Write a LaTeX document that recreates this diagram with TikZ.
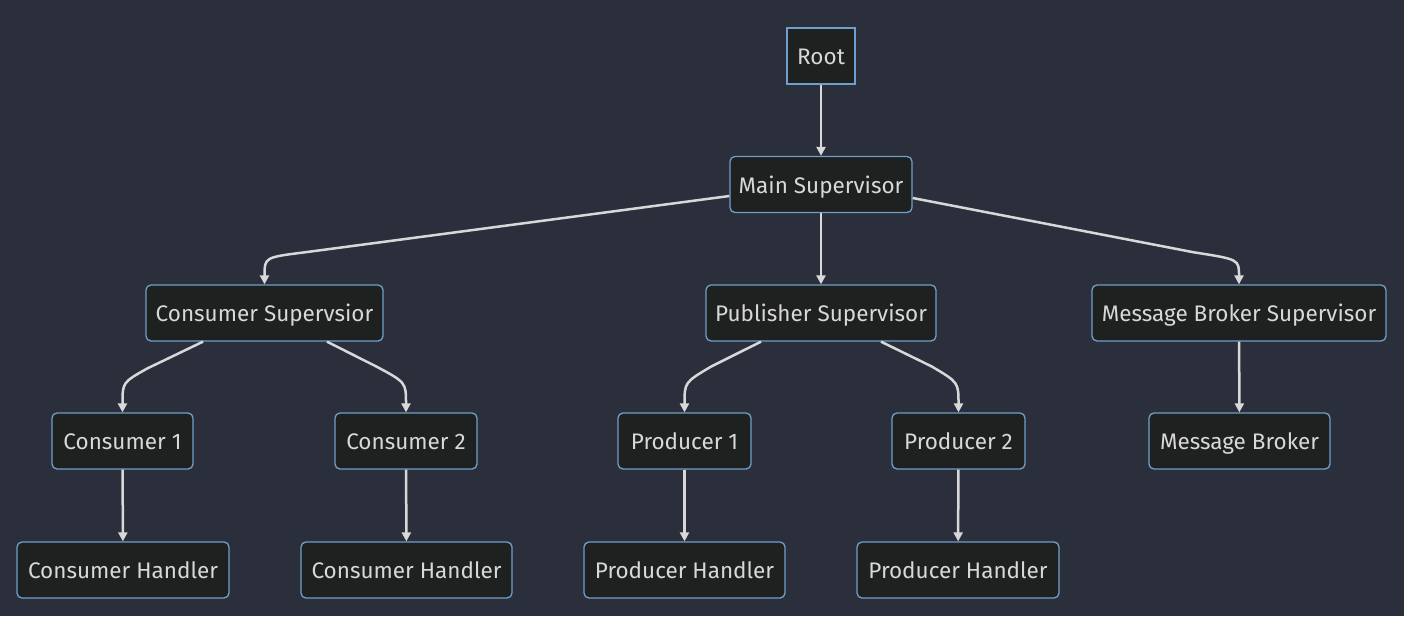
\documentclass[tikz,border=0pt]{standalone}
\usepackage{fontspec}
\setmainfont{Fira Sans}
\usetikzlibrary{arrows.meta,calc}
\definecolor{bg}{HTML}{2A2F3B}
\definecolor{nodefill}{HTML}{1F2020}
\definecolor{nodeborder}{HTML}{6F9FCB}
\definecolor{txt}{HTML}{D8D8D8}
\definecolor{edge}{HTML}{D8D8D8}
\tikzset{
  box/.style={draw=nodeborder, fill=nodefill, line width=1.3pt, rounded corners=5pt,
    minimum height=56pt, inner sep=0pt, text=txt, text height=17.5pt, text depth=0.5pt,
    font=\fontsize{22.5}{26}\selectfont},
  link/.style={draw=edge, line width=2.5pt, -{Triangle[length=9pt,width=9pt]}}
}
\begin{document}
\begin{tikzpicture}[x=1pt,y=-1pt]
\fill[bg] (0,0) rectangle (1404,616);
\useasboundingbox (0,0) rectangle (1404,616);
\node[box, rounded corners=0pt, minimum width=68pt] (root) at (821,56) {Root};
\node[box, minimum width=182pt] (ms) at (821,184.5) {Main Supervisor};
\node[box, minimum width=237pt] (cs) at (264.5,313) {Consumer Supervsior};
\node[box, minimum width=230pt] (ps) at (821,313) {Publisher Supervisor};
\node[box, minimum width=294pt] (mbs) at (1239,313) {Message Broker Supervisor};
\node[box, minimum width=141pt] (c1) at (122.5,441) {Consumer 1};
\node[box, minimum width=142pt] (c2) at (406,441) {Consumer 2};
\node[box, minimum width=133pt] (p1) at (684.5,441) {Producer 1};
\node[box, minimum width=133pt] (p2) at (958.5,441) {Producer 2};
\node[box, minimum width=181pt] (mb) at (1239.5,441) {Message Broker};
\node[box, minimum width=212pt] (ch1) at (123,570) {Consumer Handler};
\node[box, minimum width=211pt] (ch2) at (406.5,570) {Consumer Handler};
\node[box, minimum width=201pt] (ph1) at (684.5,570) {Producer Handler};
\node[box, minimum width=202pt] (ph2) at (958,570) {Producer Handler};

\draw[link] (root) -- (ms);
\draw[link] (ms) -- (ps);
\draw[link] (mbs) -- (mb);
\draw[link] (c1) -- (ch1);
\draw[link] (c2) -- (ch2);
\draw[link] (p1) -- (ph1);
\draw[link] (p2) -- (ph2);

\draw[link] ($(ms.west)+(0,11.5)$) -- ($(cs.north)+(40,-32)$)
  .. controls ($(cs.north)+(0,-27)$) .. (cs.north);
\draw[link] ($(ms.east)+(0,13.5)$) -- ($(mbs.north)+(-45,-32)$)
  .. controls ($(mbs.north)+(0,-25)$) .. (mbs.north);
\draw[link] ($(cs.south)+(-61.5,0)$) -- ($(c1.north)+(25,-44)$)
  .. controls ($(c1.north)+(0,-30)$) .. (c1.north);
\draw[link] ($(cs.south)+(62.5,0)$) -- ($(c2.north)+(-30,-46)$)
  .. controls ($(c2.north)+(0,-30)$) .. (c2.north);
\draw[link] ($(ps.south)+(-60,0)$) -- ($(p1.north)+(27,-46)$)
  .. controls ($(p1.north)+(0,-30)$) .. (p1.north);
\draw[link] ($(ps.south)+(60,0)$) -- ($(p2.north)+(-27,-46)$)
  .. controls ($(p2.north)+(0,-30)$) .. (p2.north);
\end{tikzpicture}
\end{document}
